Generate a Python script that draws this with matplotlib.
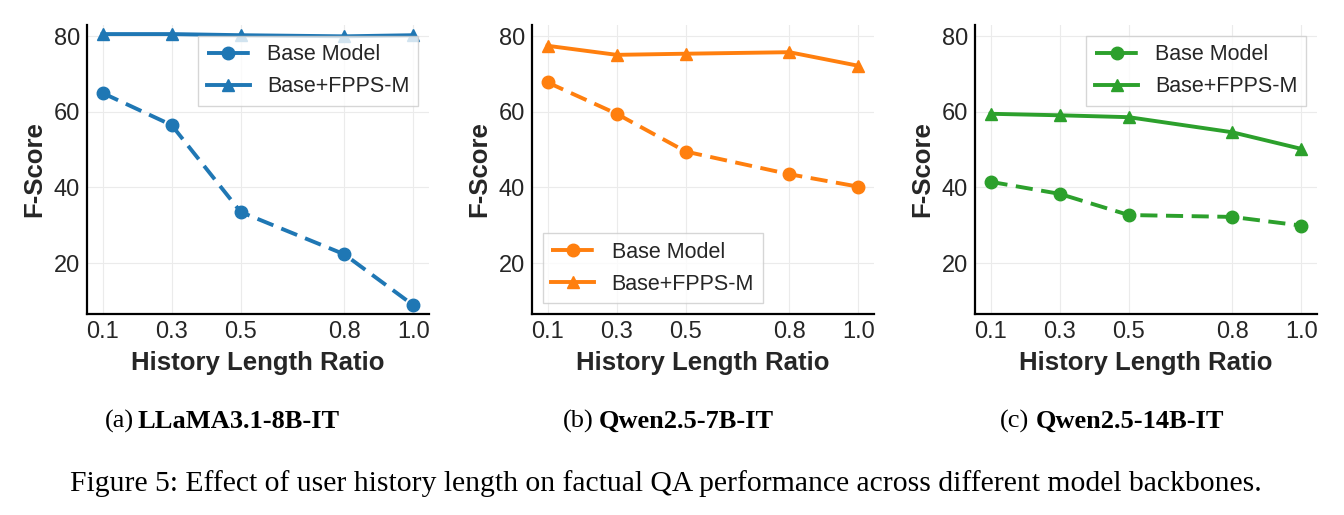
import matplotlib
matplotlib.use("Agg")
import matplotlib.pyplot as plt

x_ratio = [0.1, 0.3, 0.5, 0.8, 1.0]
x_ticklabels = ["0.1", "0.3", "0.5", "0.8", "1.0"]

llama_base = [65.0, 56.5, 33.5, 22.3, 8.8]
llama_fpps = [80.6, 80.6, 80.3, 80.0, 80.3]
qwen7_base = [67.8, 59.5, 49.5, 43.5, 40.2]
qwen7_fpps = [77.5, 75.1, 75.4, 75.8, 72.2]
qwen14_base = [41.5, 38.3, 32.7, 32.2, 29.9]
qwen14_fpps = [59.5, 59.1, 58.6, 54.6, 50.2]

panels = [
    ("(a)", "LLaMA3.1-8B-IT", llama_base, llama_fpps, "#1f77b4", "upper right"),
    ("(b)", "Qwen2.5-7B-IT", qwen7_base, qwen7_fpps, "#ff7f0e", "lower left"),
    ("(c)", "Qwen2.5-14B-IT", qwen14_base, qwen14_fpps, "#2ca02c", "upper right"),
]

W, H = 1344, 515
fig = plt.figure(figsize=(W / 100, H / 100), dpi=100)
plt.rcParams["font.family"] = ["Liberation Sans", "DejaVu Sans"]

ax_lefts = [87, 532, 975]
ax_w = 342
ax_top, ax_bot = 25, 314
cap_lab_x = [105, 563, 1000]
cap_bold_x = [138, 599, 1036]

for i, (tag, name, base, fpps, color, loc) in enumerate(panels):
    ax = fig.add_axes([ax_lefts[i] / W, 1 - ax_bot / H, ax_w / W, (ax_bot - ax_top) / H])
    ax.set_facecolor("white")
    ax.grid(True, color="#ebebeb", linewidth=0.8)
    ax.set_axisbelow(True)
    for s in ["top", "right"]:
        ax.spines[s].set_visible(False)
    for s in ["left", "bottom"]:
        ax.spines[s].set_color("black")
        ax.spines[s].set_linewidth(1.6)
    ax.plot(x_ratio, base, linestyle=(0, (4.4, 2.2)), marker="o", color=color, linewidth=2.8,
            markersize=9, label="Base Model")
    ax.plot(x_ratio, fpps, linestyle="-", marker="^", color=color, linewidth=2.8,
            markersize=9, label="Base+FPPS-M")
    ax.set_xlim(0.055, 1.045)
    ax.set_ylim(6.5, 83)
    ax.set_xticks(x_ratio)
    ax.set_xticklabels(x_ticklabels)
    ax.set_yticks([20, 40, 60, 80])
    ax.tick_params(axis="both", labelsize=17, length=0, pad=5, colors="#262626")
    ax.set_xlabel("History Length Ratio", fontsize=18.5, fontweight="bold", color="#262626", labelpad=6)
    ax.set_ylabel("F-Score", fontsize=18.5, fontweight="bold", color="#262626", labelpad=5)
    leg = ax.legend(loc=loc, fontsize=15.5, frameon=True, fancybox=False, framealpha=0.8,
                    edgecolor="#cccccc")
    for t in leg.get_texts():
        t.set_color("#262626")

    fig.text(cap_lab_x[i] / W, 1 - 428 / H, tag, ha="left", va="baseline",
             fontsize=19, family="Liberation Serif")
    fig.text(cap_bold_x[i] / W, 1 - 428 / H, name, ha="left", va="baseline",
             fontsize=19, family="Liberation Serif", fontweight="bold")

fig.text(70 / W, 1 - 491 / H,
         "Figure 5: Effect of user history length on factual QA performance across different model backbones.",
         ha="left", va="baseline", fontsize=21.3, family="Liberation Serif")

fig.savefig("out.png", dpi=100, facecolor="white")
